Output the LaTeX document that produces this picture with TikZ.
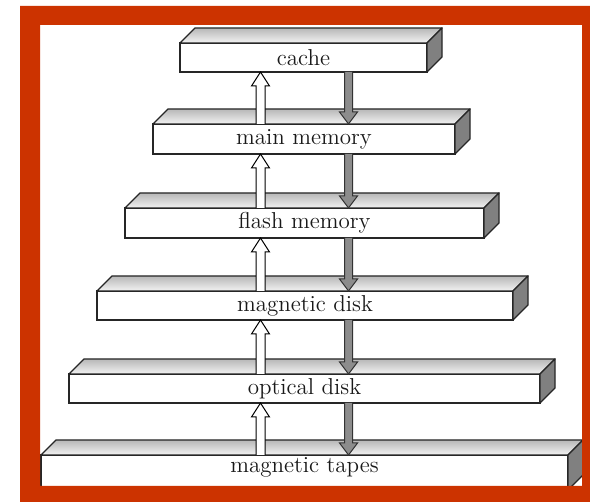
\documentclass[tikz,border=0pt]{standalone}
\usetikzlibrary{calc}
\definecolor{framered}{HTML}{CC3300}
\newcommand{\mkslab}[6]{% name, cx, cy, width, height, text
  \node[slab, minimum width=#4, minimum height=#5] (#1) at (#2,#3) {#6};
  \draw[topface] (#1.north west) -- ++(15,-15) -- ($(#1.north east)+(15,-15)$) -- (#1.north east) -- cycle;
  \draw[sideface] (#1.north east) -- ++(15,-15) -- ($(#1.south east)+(15,-15)$) -- (#1.south east) -- cycle;
}
\newcommand{\uparr}[2]{% lower node, upper node
  \draw[uparr] let \p1=(ux |- #1.north), \p2=(ux |- #2.south) in
    (\x1-2.25pt,\y1) -- (\x1-2.25pt,\y2-7pt) -- (\x1-4.5pt,\y2-7pt) -- (\x2,\y2)
    -- (\x1+4.5pt,\y2-7pt) -- (\x1+2.25pt,\y2-7pt) -- (\x1+2.25pt,\y1);
}
\newcommand{\downarr}[2]{% upper node, lower node
  \draw[downarr] let \p1=(dx |- #1.south), \p2=(dx |- #2.north) in
    (\x1-2pt,\y1) -- (\x1-2pt,\y2+6pt) -- (\x1-4.5pt,\y2+6pt) -- (\x2,\y2)
    -- (\x1+4.5pt,\y2+6pt) -- (\x1+2pt,\y2+6pt) -- (\x1+2pt,\y1);
}
\begin{document}
\begin{tikzpicture}[x=0.5pt,y=-0.5pt,
  slab/.style={draw=black!85, line width=0.7pt, fill=white, inner sep=0pt, outer sep=0pt,
    font=\fontsize{11.5}{13}\selectfont, text=black!90},
  topface/.style={draw=black!85, line width=0.7pt, top color=black!28, bottom color=black!5, line join=round},
  sideface/.style={draw=black!85, line width=0.7pt, fill=black!50, line join=round},
  uparr/.style={draw=black, line width=0.5pt, fill=white, line join=miter},
  downarr/.style={draw=black!80, line width=0.5pt, fill=black!45, line join=miter}]
\useasboundingbox (0,0) rectangle (590,502);
\fill[white] (0,0) rectangle (590,502);
\coordinate (ux) at (260.5,0);
\coordinate (dx) at (348.5,0);

\mkslab{cache}{303.5}{57.5}{123.5pt}{14.5pt}{cache}
\mkslab{mainmem}{304}{139}{151pt}{15pt}{main memory}
\mkslab{flash}{304.5}{223}{179.5pt}{15pt}{flash memory}
\mkslab{disk}{305}{305.5}{208pt}{14.5pt}{magnetic disk}
\mkslab{optical}{304.5}{388.5}{235.5pt}{14.5pt}{optical disk}
\mkslab{tapes}{304.5}{472.5}{263.5pt}{17.5pt}{\raisebox{2.5pt}[\height][\depth]{magnetic tapes}}

\uparr{mainmem}{cache}
\downarr{cache}{mainmem}
\uparr{flash}{mainmem}
\downarr{mainmem}{flash}
\uparr{disk}{flash}
\downarr{flash}{disk}
\uparr{optical}{disk}
\downarr{disk}{optical}
\uparr{tapes}{optical}
\downarr{optical}{tapes}

\fill[framered, even odd rule] (20,6) rectangle (600,512) (40,25) rectangle (582,486);
\end{tikzpicture}
\end{document}
